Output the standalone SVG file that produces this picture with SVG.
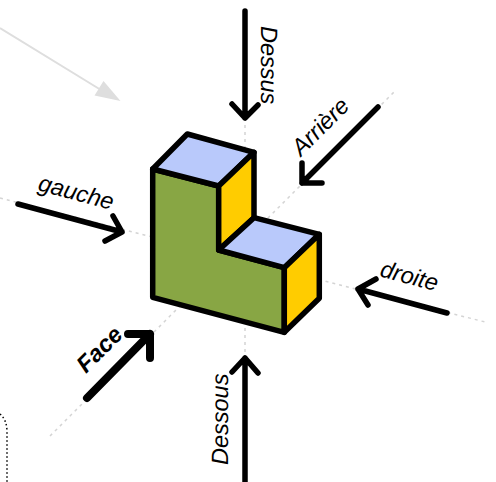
<svg xmlns="http://www.w3.org/2000/svg" width="496" height="482" viewBox="0 0 496 482">
<style>
.guide{stroke:#d4d4d4;stroke-width:1.5;stroke-dasharray:3 4;fill:none}
.arr{stroke:#000;stroke-width:5.5;fill:none;stroke-linecap:round;stroke-linejoin:round}
.f{stroke:#000;stroke-width:5.5;stroke-linejoin:round}
.t{font-family:"Liberation Sans",Arial,sans-serif;font-style:italic;font-size:23.5px;fill:#000;text-rendering:geometricPrecision}
</style>
<rect width="496" height="482" fill="#fff"/>
<g id="connectors">
<path class="guide" d="M245 118V358M0 198L485 322M50 436L395 91"/>
<path d="M0 28L101 90" stroke="#dedede" stroke-width="2" fill="none"/>
<path d="M120.500 101L94.500 95.500L103.500 81Z" fill="#dedede"/>
<path d="M0 414Q7 420 7 432V482" fill="none" stroke="#000" stroke-width="1.500" stroke-dasharray="1.500 2.500"/>
<path class="arr" d="M245 11V118M232 104L245 118L258 105"/>
<path class="arr" d="M245 482V358M232 372L245 358L258 373"/>
<path class="arr" d="M378 107L302 183M302 163V183H322"/>
<path class="arr" style="stroke-width:8" d="M87 398L150 334M128 334H150V358"/>
<path class="arr" d="M447 313L358 289M376 279L358 289L368 305"/>
<path class="arr" d="M18 204L122 232M113 216L122 232L105 241"/>
</g>
<g id="solid">
<path class="f" fill="#88a644" d="M152.700 169L218.700 186V250L284.300 267.700V332.300L152.700 297.300Z"/>
<path class="f" fill="#b9c9fb" d="M152.700 169L187.300 134L254 152.300L218.700 186Z"/>
<path class="f" fill="#ffcc00" d="M218.700 186L254 152.300V217.700L218.700 250Z"/>
<path class="f" fill="#b9c9fb" d="M218.700 250L254 217.700L319.300 234.300L284.300 267.700Z"/>
<path class="f" fill="#ffcc00" d="M284.300 267.700L319.300 234.300V298.300L284.300 332.300Z"/>
</g>
<g id="labels">
<text class="t" transform="translate(261 26) rotate(90)">Dessus</text>
<text class="t" transform="translate(228 465) rotate(-90)">Dessous</text>
<text class="t" transform="translate(301 157) rotate(-45)">Arrière</text>
<text class="t" transform="translate(37 190) rotate(15)">gauche</text>
<text class="t" transform="translate(379 276) rotate(15)">droite</text>
<text class="t" style="font-weight:bold" transform="translate(86 374) rotate(-45)">Face</text>
</g>
</svg>
